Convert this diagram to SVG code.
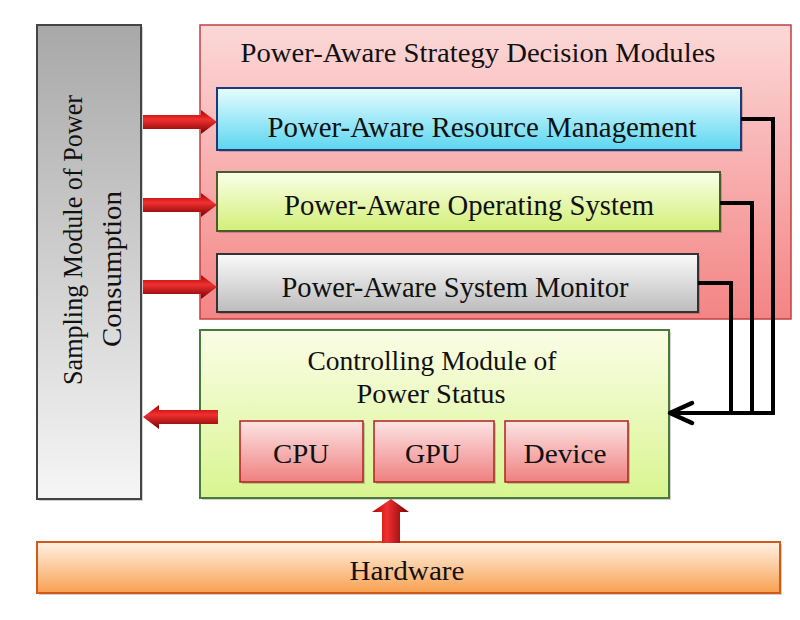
<svg xmlns="http://www.w3.org/2000/svg" width="800" height="620" viewBox="0 0 800 620">
<defs>
<linearGradient id="gGray" x1="0" y1="0" x2="0" y2="1"><stop offset="0" stop-color="#a8a8a8"/><stop offset="1" stop-color="#f6f6f6"/></linearGradient>
<linearGradient id="gPink" x1="0" y1="0" x2="0" y2="1"><stop offset="0" stop-color="#fcd8d8"/><stop offset="1" stop-color="#f48484"/></linearGradient>
<linearGradient id="gCyan" x1="0" y1="0" x2="0" y2="1"><stop offset="0" stop-color="#e6fcff"/><stop offset="1" stop-color="#5cd6f0"/></linearGradient>
<linearGradient id="gLime" x1="0" y1="0" x2="0" y2="1"><stop offset="0" stop-color="#fbffe8"/><stop offset="1" stop-color="#d2ef78"/></linearGradient>
<linearGradient id="gSilver" x1="0" y1="0" x2="0" y2="1"><stop offset="0" stop-color="#fafafa"/><stop offset="1" stop-color="#bcbcbc"/></linearGradient>
<linearGradient id="gCtrl" x1="0" y1="0" x2="0" y2="1"><stop offset="0" stop-color="#fbfde6"/><stop offset="1" stop-color="#d8f590"/></linearGradient>
<linearGradient id="gChip" x1="0" y1="0" x2="0" y2="1"><stop offset="0" stop-color="#fde4e4"/><stop offset="1" stop-color="#ef8080"/></linearGradient>
<linearGradient id="gOrange" x1="0" y1="0" x2="0" y2="1"><stop offset="0" stop-color="#fff2e4"/><stop offset="1" stop-color="#f8a050"/></linearGradient>
<linearGradient id="gArrH" x1="0" y1="0" x2="0" y2="1"><stop offset="0" stop-color="#b00000"/><stop offset="0.4" stop-color="#f03030"/><stop offset="1" stop-color="#7a0000"/></linearGradient>
<linearGradient id="gArrV" x1="0" y1="0" x2="1" y2="0"><stop offset="0" stop-color="#b00000"/><stop offset="0.4" stop-color="#f03030"/><stop offset="1" stop-color="#7a0000"/></linearGradient>
<marker id="chev" viewBox="-26 -13 30 26" refX="0" refY="0" markerWidth="30" markerHeight="26" markerUnits="userSpaceOnUse" orient="auto">
<path d="M-22,-10 L0,0 L-22,10" fill="none" stroke="#000" stroke-width="4.5" stroke-linecap="round" stroke-linejoin="round"/>
</marker>
</defs>
<style>
text{font-family:"Liberation Serif","Times New Roman",serif;fill:#111;text-anchor:middle}
.tb{font-size:30px}
.tt{font-size:27px}
.tc{font-size:27px}
.shadow{fill:#000;opacity:0.18}
.wire{fill:none;stroke:#000;stroke-width:4}
</style>
<rect width="800" height="620" fill="#fff"/>

<g id="sampling">
<rect x="39" y="27" width="104" height="474" class="shadow"/>
<rect x="37" y="25" width="104" height="474" fill="url(#gGray)" stroke="#444" stroke-width="2"/>
<text class="tc" transform="translate(82,240) rotate(-90)" textLength="290" lengthAdjust="spacingAndGlyphs">Sampling Module of Power</text>
<text class="tc" transform="translate(121,269) rotate(-90)" textLength="156" lengthAdjust="spacingAndGlyphs">Consumption</text>
</g>

<g id="strategy">
<rect x="200" y="25" width="591" height="294" fill="url(#gPink)" stroke="#c04040" stroke-width="1.5"/>
<text class="tt" x="478" y="62" textLength="475" lengthAdjust="spacingAndGlyphs">Power-Aware Strategy Decision Modules</text>
</g>

<g id="resource">
<rect x="219" y="90" width="524" height="62" class="shadow"/>
<rect x="217" y="88" width="524" height="62" fill="url(#gCyan)" stroke="#1a3a7a" stroke-width="2"/>
<text class="tb" x="482" y="137" textLength="429" lengthAdjust="spacingAndGlyphs">Power-Aware Resource Management</text>
</g>

<g id="os">
<rect x="219" y="174" width="503" height="59" class="shadow"/>
<rect x="217" y="172" width="503" height="59" fill="url(#gLime)" stroke="#4a5a2a" stroke-width="2"/>
<text class="tb" x="469" y="215" textLength="370" lengthAdjust="spacingAndGlyphs">Power-Aware Operating System</text>
</g>

<g id="monitor">
<rect x="219" y="256" width="481" height="58" class="shadow"/>
<rect x="217" y="254" width="481" height="58" fill="url(#gSilver)" stroke="#333" stroke-width="2"/>
<text class="tb" x="455" y="297" textLength="347" lengthAdjust="spacingAndGlyphs">Power-Aware System Monitor</text>
</g>

<g id="controlling">
<rect x="202" y="332" width="469" height="168" class="shadow"/>
<rect x="200" y="330" width="469" height="168" fill="url(#gCtrl)" stroke="#4a7a3a" stroke-width="2"/>
<text class="tc" x="432" y="370" textLength="249" lengthAdjust="spacingAndGlyphs">Controlling Module of</text>
<text class="tc" x="431" y="403" textLength="149" lengthAdjust="spacingAndGlyphs">Power Status</text>
</g>

<g id="cpu">
<rect x="242" y="423" width="123" height="61" class="shadow"/>
<rect x="240" y="421" width="123" height="61" fill="url(#gChip)" stroke="#b02020" stroke-width="1.5"/>
<text class="tc" x="301" y="463" textLength="56" lengthAdjust="spacingAndGlyphs">CPU</text>
</g>
<g id="gpu">
<rect x="376" y="423" width="120" height="61" class="shadow"/>
<rect x="374" y="421" width="120" height="61" fill="url(#gChip)" stroke="#b02020" stroke-width="1.5"/>
<text class="tc" x="433" y="463" textLength="56" lengthAdjust="spacingAndGlyphs">GPU</text>
</g>
<g id="device">
<rect x="507" y="423" width="123" height="61" class="shadow"/>
<rect x="505" y="421" width="123" height="61" fill="url(#gChip)" stroke="#b02020" stroke-width="1.5"/>
<text class="tc" x="565" y="463" textLength="83" lengthAdjust="spacingAndGlyphs">Device</text>
</g>

<g id="hardware">
<rect x="39" y="544" width="743" height="51" class="shadow"/>
<rect x="37" y="542" width="743" height="51" fill="url(#gOrange)" stroke="#d05a1a" stroke-width="2"/>
<text class="tc" x="407" y="580" textLength="115" lengthAdjust="spacingAndGlyphs">Hardware</text>
</g>

<g id="connectors">
<path d="M143,115 H201 V110 L217,122 L201,134 V129 H143 Z" fill="url(#gArrH)"/>
<path d="M143,198 H201 V193 L217,205 L201,217 V212 H143 Z" fill="url(#gArrH)"/>
<path d="M143,280 H201 V275 L217,287 L201,299 V294 H143 Z" fill="url(#gArrH)"/>
<path d="M218,410 H159 V405 L143,417 L159,429 V424 H218 Z" fill="url(#gArrH)"/>
<path d="M382,543 V512 H372 L391,499 L409,512 H400 V543 Z" fill="url(#gArrV)"/>
<path class="wire" d="M741,119 H773 V413"/>
<path class="wire" d="M720,203 H752 V413"/>
<path class="wire" d="M698,283 H731 V413"/>
<path class="wire" d="M775,413 H670" marker-end="url(#chev)"/>
</g>
</svg>
